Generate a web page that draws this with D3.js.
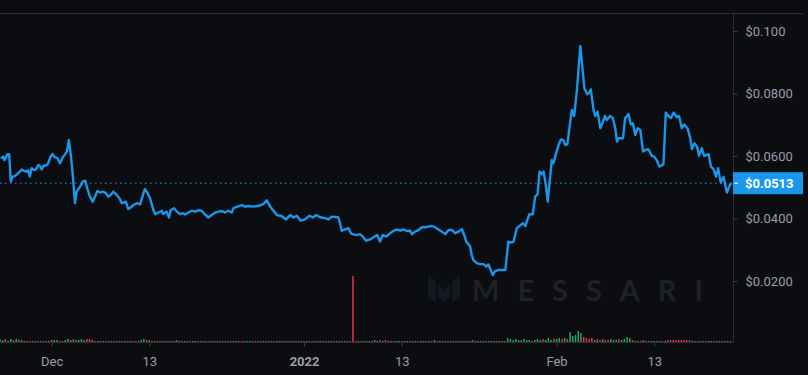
<!DOCTYPE html>
<html><head><meta charset="utf-8">
<script src="https://cdn.jsdelivr.net/npm/d3@7"></script>
<style>html,body{margin:0;padding:0;background:#0b0d10;overflow:hidden}</style>
</head><body><svg id="c" width="808" height="375"></svg>
<script>
const dates = [
"2021-11-24 19","2021-11-24 22","2021-11-25 02","2021-11-25 05","2021-11-25 10","2021-11-25 14","2021-11-25 19","2021-11-26 00","2021-11-26 05","2021-11-26 12",
"2021-11-26 22","2021-11-27 08","2021-11-27 15","2021-11-27 23","2021-11-28 03","2021-11-28 08","2021-11-28 13","2021-11-28 21","2021-11-29 02","2021-11-29 09",
"2021-11-29 14","2021-11-29 19","2021-11-30 00","2021-11-30 10","2021-11-30 14","2021-11-30 21","2021-12-01 03","2021-12-01 10","2021-12-01 17","2021-12-02 01",
"2021-12-02 09","2021-12-02 16","2021-12-02 21","2021-12-03 03","2021-12-03 08","2021-12-03 14","2021-12-03 21","2021-12-04 02","2021-12-04 12","2021-12-04 20",
"2021-12-05 03","2021-12-05 09","2021-12-05 17","2021-12-06 01","2021-12-06 08","2021-12-06 15","2021-12-06 23","2021-12-07 07","2021-12-07 16","2021-12-07 23",
"2021-12-08 06","2021-12-08 14","2021-12-09 00","2021-12-09 08","2021-12-09 15","2021-12-09 21","2021-12-10 03","2021-12-10 10","2021-12-10 18","2021-12-11 01",
"2021-12-11 11","2021-12-11 21","2021-12-12 05","2021-12-12 11","2021-12-12 19","2021-12-13 02","2021-12-13 12","2021-12-13 17","2021-12-14 03","2021-12-14 13",
"2021-12-14 17","2021-12-15 03","2021-12-15 10","2021-12-15 15","2021-12-16 01","2021-12-16 09","2021-12-16 19","2021-12-17 03","2021-12-17 09","2021-12-17 19",
"2021-12-18 05","2021-12-18 15","2021-12-19 01","2021-12-19 11","2021-12-19 20","2021-12-20 06","2021-12-20 16","2021-12-21 02","2021-12-21 12","2021-12-21 22",
"2021-12-22 07","2021-12-22 17","2021-12-23 03","2021-12-23 08","2021-12-23 20","2021-12-24 09","2021-12-24 18","2021-12-25 04","2021-12-25 19","2021-12-26 09",
"2021-12-27 00","2021-12-27 10","2021-12-27 20","2021-12-28 06","2021-12-28 16","2021-12-29 06","2021-12-29 19","2021-12-30 07","2021-12-30 17","2021-12-31 03",
"2021-12-31 14","2022-01-01 03","2022-01-01 16","2022-01-02 02","2022-01-02 12","2022-01-02 23","2022-01-03 14","2022-01-04 00","2022-01-04 10","2022-01-05 05",
"2022-01-05 10","2022-01-05 15","2022-01-06 01","2022-01-06 11","2022-01-06 18","2022-01-07 01","2022-01-07 12","2022-01-07 21","2022-01-08 05","2022-01-08 15",
"2022-01-09 03","2022-01-09 15","2022-01-10 00","2022-01-10 08","2022-01-10 16","2022-01-11 02","2022-01-11 14","2022-01-11 23","2022-01-12 09","2022-01-12 19",
"2022-01-13 05","2022-01-13 15","2022-01-14 01","2022-01-14 06","2022-01-14 15","2022-01-15 01","2022-01-15 11","2022-01-15 21","2022-01-16 07","2022-01-16 17",
"2022-01-17 02","2022-01-17 12","2022-01-17 22","2022-01-18 08","2022-01-18 18","2022-01-19 04","2022-01-19 13","2022-01-19 23","2022-01-20 09","2022-01-20 16",
"2022-01-20 22","2022-01-21 04","2022-01-21 09","2022-01-21 14","2022-01-21 19","2022-01-22 05","2022-01-22 15","2022-01-23 01","2022-01-23 09","2022-01-23 15",
"2022-01-23 20","2022-01-24 04","2022-01-24 11","2022-01-24 21","2022-01-25 17","2022-01-26 02","2022-01-26 09","2022-01-26 17","2022-01-27 03","2022-01-27 13",
"2022-01-27 21","2022-01-28 04","2022-01-28 16","2022-01-29 02","2022-01-29 09","2022-01-29 16","2022-01-29 22","2022-01-30 05","2022-01-30 10","2022-01-30 17",
"2022-01-30 22","2022-01-31 10","2022-01-31 15","2022-01-31 23","2022-02-01 06","2022-02-01 13","2022-02-01 20","2022-02-02 02","2022-02-02 08","2022-02-02 14",
"2022-02-02 21","2022-02-03 04","2022-02-03 12","2022-02-03 22","2022-02-04 03","2022-02-04 10","2022-02-04 19","2022-02-05 00","2022-02-05 05","2022-02-05 13",
"2022-02-05 18","2022-02-06 01","2022-02-06 09","2022-02-06 17","2022-02-06 23","2022-02-07 04","2022-02-07 14","2022-02-07 22","2022-02-08 05","2022-02-08 10",
"2022-02-08 15","2022-02-09 04","2022-02-09 10","2022-02-09 20","2022-02-10 03","2022-02-10 09","2022-02-10 16","2022-02-10 23","2022-02-11 07","2022-02-11 15",
"2022-02-12 00","2022-02-12 07","2022-02-12 17","2022-02-13 00","2022-02-13 08","2022-02-13 15","2022-02-13 23","2022-02-14 03","2022-02-14 10","2022-02-14 18",
"2022-02-15 01","2022-02-15 09","2022-02-15 19","2022-02-16 01","2022-02-16 09","2022-02-16 16","2022-02-17 02","2022-02-17 10","2022-02-17 15","2022-02-17 22",
"2022-02-18 06","2022-02-18 12","2022-02-18 20","2022-02-19 03","2022-02-19 16","2022-02-19 23","2022-02-20 07","2022-02-20 14","2022-02-20 20","2022-02-21 04",
"2022-02-21 12","2022-02-21 22","2022-02-22 08","2022-02-22 13"];

const prices = [
0.0597,0.0594,0.0598,0.0587,0.0597,0.0606,0.0606,0.0518,0.0534,0.0536,
0.0545,0.0557,0.0552,0.0550,0.0555,0.0534,0.0561,0.0555,0.0557,0.0571,
0.0568,0.0557,0.0568,0.0571,0.0577,0.0598,0.0606,0.0596,0.0593,0.0577,
0.0596,0.0606,0.0614,0.0651,0.0609,0.0545,0.0449,0.0486,0.0502,0.0518,
0.0521,0.0497,0.0470,0.0454,0.0470,0.0488,0.0483,0.0486,0.0481,0.0470,
0.0475,0.0486,0.0475,0.0465,0.0449,0.0451,0.0454,0.0430,0.0436,0.0443,
0.0449,0.0445,0.0475,0.0494,0.0481,0.0465,0.0427,0.0414,0.0419,0.0425,
0.0414,0.0422,0.0403,0.0427,0.0433,0.0422,0.0414,0.0417,0.0413,0.0419,
0.0425,0.0422,0.0427,0.0424,0.0413,0.0403,0.0411,0.0419,0.0422,0.0424,
0.0419,0.0425,0.0419,0.0433,0.0438,0.0443,0.0438,0.0440,0.0438,0.0440,
0.0446,0.0458,0.0438,0.0425,0.0411,0.0408,0.0397,0.0411,0.0403,0.0409,
0.0393,0.0397,0.0409,0.0403,0.0411,0.0404,0.0401,0.0397,0.0406,0.0404,
0.0385,0.0361,0.0365,0.0369,0.0353,0.0349,0.0347,0.0350,0.0342,0.0329,
0.0333,0.0342,0.0347,0.0326,0.0347,0.0342,0.0353,0.0360,0.0365,0.0361,
0.0365,0.0360,0.0361,0.0350,0.0358,0.0363,0.0372,0.0372,0.0374,0.0376,
0.0372,0.0365,0.0358,0.0350,0.0363,0.0363,0.0353,0.0358,0.0366,0.0347,
0.0326,0.0318,0.0312,0.0283,0.0267,0.0257,0.0254,0.0254,0.0246,0.0253,
0.0241,0.0219,0.0232,0.0235,0.0235,0.0326,0.0323,0.0325,0.0369,0.0378,
0.0385,0.0376,0.0414,0.0413,0.0470,0.0477,0.0550,0.0542,0.0550,0.0502,
0.0454,0.0587,0.0577,0.0609,0.0635,0.0653,0.0651,0.0635,0.0638,0.0689,
0.0747,0.0728,0.0811,0.0952,0.0897,0.0817,0.0798,0.0802,0.0813,0.0747,
0.0728,0.0742,0.0689,0.0710,0.0728,0.0715,0.0728,0.0721,0.0689,0.0646,
0.0657,0.0657,0.0721,0.0734,0.0701,0.0705,0.0667,0.0689,0.0683,0.0614,
0.0621,0.0621,0.0600,0.0598,0.0585,0.0566,0.0571,0.0573,0.0739,0.0728,
0.0721,0.0739,0.0724,0.0728,0.0689,0.0701,0.0689,0.0657,0.0622,0.0641,
0.0630,0.0601,0.0625,0.0600,0.0606,0.0566,0.0557,0.0534,0.0561,0.0515,
0.0534,0.0483,0.0510,0.0513];

// volume per 8-hour bar, starting 2021-11-24 16:00
const volumeStart = "2021-11-24 16";
const volumeStepHours = 8;
const volumes = [
3,2,3,1,3,2,3,2,2,1, 1,1,1,1,1,1,1,1,1,2, 2,2,1,1,2,3,2,3,2,2, 3,2,3,3,2,1,1,1,1,1,
1,1,1,1,1,1,1,1,1,1, 1,1,2,3,2,2,1,1,1,1, 1,1,1,1,1,2,1,1,1,1, 1,1,1,1,1,1,1,1,1,1,
1,1,1,1,1,1,1,1,1,1, 1,1,1,1,1,1,1,1,1,1, 1,1,1,1,1,1,1,1,1,1, 1,1,1,1,1,1,1,1,1,1,
1,1,1,1,1,1,1,1,1,1, 66,1,1,1,1,1,1,1,2,1, 2,1,2,1,1,1,1,1,1,1, 1,1,1,1,1,1,1,1,1,1,
2,1,1,1,1,1,1,1,1,1, 1,1,1,1,2,1,1,1,1,1, 1,1,1,1,1,1,1,4,3,2, 3,2,2,3,2,2,1,2,3,2,
3,2,4,2,3,3,4,3,4,3, 10,6,7,11,9,5,4,3,4,2, 3,2,3,2,2,3,2,2,3,2, 3,5,4,2,1,1,1,2,1,1,
1,1,1,1,1,1,2,2,2,2, 2,2,2,2,2,1,1,1,1,1, 1,1,1,1,1,1,1,1,1,1];
const volumeDirs = ("uuduuduudu"+"ddududduud"+"uudduuuduu"+"uuddddudud"+"ududduudud"+"duuudduddu"+"udduddudud"+"duudduddud"+
"uddudduudd"+"duuddudduu"+"dduddudddu"+"udduddduud"+"dudduddudd"+"dduddudduu"+"dudduduudd"+"udduduudud"+
"uddudduudd"+"uddudduudu"+"duuduuduuu"+"uuduuuduuu"+"duuuduudud"+"uuuuuddddu"+"ddudduuudu"+"uuudduddud"+
"duuddudddd"+"ddddduddud"+"duuddudddu").split("");

const xTickDates = ["2021-12-01 00","2021-12-13 00","2022-01-01 00","2022-01-13 00","2022-02-01 00","2022-02-13 00"];
const xTickLabels = ["Dec","13","2022","13","Feb","13"];
const yTickValues = [0.02,0.04,0.06,0.08,0.1];
const yTickLabels = ["$0.0200","$0.0400","$0.0600","$0.0800","$0.100"];
const lastPrice = 0.0513;
const lastPriceLabel = "$0.0513";
const watermark = "MESSARI";

const parse = d3.timeParse("%Y-%m-%d %H");
const L=0, R=733, T=13, B=342;
const svg = d3.select("#c");
const BG="#0b0d10", LINE="#1a96ea", GRID="#2a2e38", TXT="#9a9ea8";

svg.append("rect").attr("width",808).attr("height",375).attr("fill",BG);

const x = d3.scaleTime().domain([parse("2021-11-24 16"), parse("2022-02-22 16")]).range([L,R]);
const y = d3.scaleLinear().domain([0,0.1]).range([343.5,31]);
const yv = d3.scaleLinear().domain([0,d3.max(volumes)]).range([B,B-66]);

// watermark
const wm = svg.append("g");
wm.append("path").attr("fill","#121922")
  .attr("d","M428,275 L436,282 L436,303 L428,296 Z M438,284 L444,290 L450,284 L450,297 L444,303 L438,297 Z M452,282 L460,275 L460,296 L452,303 Z");
wm.append("text").attr("x",472).attr("y",301).attr("fill","#1e2126")
  .attr("font-family","Lato, 'Open Sans', sans-serif").attr("font-weight",700).attr("font-size",29)
  .attr("textLength",231).attr("lengthAdjust","spacing").text(watermark);

svg.append("defs").append("clipPath").attr("id","clip").append("rect")
  .attr("x",L).attr("y",T).attr("width",R-L).attr("height",B-T);

// volume bars
const vStart = parse(volumeStart);
svg.append("g").attr("clip-path","url(#clip)").selectAll("rect").data(volumes).join("rect")
  .attr("x",(d,i)=>x(d3.timeHour.offset(vStart,i*volumeStepHours))-0.75)
  .attr("width",1.5)
  .attr("y",d=>yv(d)).attr("height",d=>B-yv(d))
  .attr("fill",(d,i)=>volumeDirs[i]==="u"?"#22a85a":"#e0364e");

// frame
svg.append("line").attr("x1",0).attr("x2",803).attr("y1",T+0.5).attr("y2",T+0.5).attr("stroke",GRID);
svg.append("line").attr("x1",R+0.5).attr("x2",R+0.5).attr("y1",T).attr("y2",B+1).attr("stroke",GRID);
svg.append("line").attr("x1",0).attr("x2",R).attr("y1",B+0.5).attr("y2",B+0.5).attr("stroke",GRID);

// last price dotted line
svg.append("line").attr("x1",0).attr("x2",R).attr("y1",y(lastPrice)).attr("y2",y(lastPrice))
  .attr("stroke",LINE).attr("stroke-width",1).attr("stroke-dasharray","1.5,3.5");

// price line
const data = dates.map((d,i)=>({t:parse(d),p:prices[i]}));
svg.append("path").datum(data).attr("clip-path","url(#clip)")
  .attr("fill","none").attr("stroke",LINE).attr("stroke-width",2.4).attr("stroke-linejoin","round")
  .attr("d",d3.line().x(d=>x(d.t)).y(d=>y(d.p)));

// axes
const yAxis = d3.axisRight(y).tickValues(yTickValues).tickFormat((d,i)=>yTickLabels[i]).tickSize(4).tickPadding(8);
svg.append("g").attr("transform",`translate(${R+0.5},0)`).call(yAxis)
  .attr("font-family","Roboto, sans-serif").attr("font-size",13)
  .call(g=>g.select(".domain").remove())
  .call(g=>g.selectAll(".tick line").attr("stroke","#3a3e48"))
  .call(g=>g.selectAll(".tick text").attr("fill",TXT));

const xAxis = d3.axisBottom(x).tickValues(xTickDates.map(parse)).tickFormat((d,i)=>xTickLabels[i]).tickSize(4).tickPadding(10);
svg.append("g").attr("transform",`translate(0,${B+0.5})`).call(xAxis)
  .attr("font-family","Roboto, sans-serif").attr("font-size",13)
  .call(g=>g.select(".domain").remove())
  .call(g=>g.selectAll(".tick line").attr("stroke","#3a3e48"))
  .call(g=>g.selectAll(".tick text").attr("fill",TXT).attr("font-weight",(d,i)=>xTickLabels[i]==="2022"?700:400));

// last price label
const ly = y(lastPrice);
svg.append("rect").attr("x",R).attr("y",ly-11).attr("width",70).attr("height",22).attr("fill",LINE);
svg.append("line").attr("x1",R+1).attr("x2",R+5).attr("y1",ly).attr("y2",ly).attr("stroke","#fff");
svg.append("text").attr("x",745).attr("y",ly).attr("dy","0.35em").attr("fill","#fff")
  .attr("font-family","Roboto, sans-serif").attr("font-size",13).attr("font-weight",700).text(lastPriceLabel);
</script>
</body></html>
